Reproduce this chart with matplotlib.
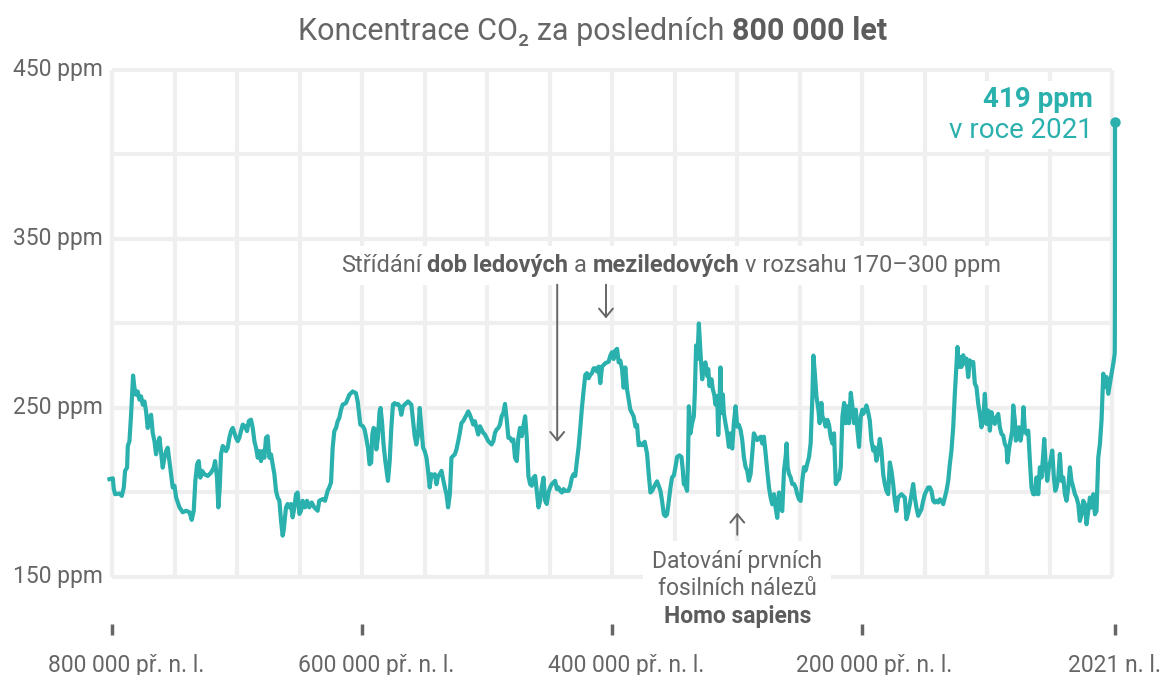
import matplotlib
matplotlib.use("Agg")
import matplotlib.pyplot as plt
from matplotlib.transforms import IdentityTransform, offset_copy, Bbox
from matplotlib.patches import Rectangle

FONT = ["Roboto", "DejaVu Sans"]
plt.rcParams["font.family"] = FONT

# CO2 from ice cores: age in thousands of years before 1950, concentration in ppm
age_kyr = [
    804, 801.3, 800.5, 799.5, 796, 794.1, 792.5, 791.5, 789.9, 789.3, 788, 786.7, 785.1, 784, 782.7,
    781.4, 780, 778.7, 777.4, 776, 774.7, 773.4, 772, 770.7, 769.4, 768, 766.7, 765.4, 764, 762.7,
    761.4, 760, 758.7, 757.4, 756, 754.7, 753.4, 752, 750.7, 748, 745.4, 742.7, 740, 738.2, 736.6,
    735.3, 733.9, 732.6, 731.3, 729.9, 728, 725.4, 722.7, 720.6, 719.5, 718, 716.9, 715.8, 714.8, 713.4,
    712.1, 710.8, 709.4, 708.1, 706.8, 705.4, 704.1, 702.8, 701.4, 700.1, 698.8, 697.4, 695.6, 694, 692.6,
    690.8, 689.4, 688.1, 686.8, 685.4, 684.1, 682.8, 681.5, 680.1, 678.8, 677.5, 676.1, 674.8, 673.5, 672.1,
    670.8, 669.5, 668.1, 666.8, 665.5, 664.7, 663.6, 662.8, 661.5, 660.1, 658.8, 657.5, 656.1, 654.8, 653.5,
    652.1, 650.8, 649.5, 647.6, 646, 644.2, 642.3, 640.2, 637.5, 636.2, 633.5, 631.6, 629.5, 628.2, 626.8,
    625.5, 624.2, 622.8, 621.5, 620.2, 618.8, 617.5, 614.9, 612.2, 609.5, 606.9, 605.5, 603.4,
    601.3, 600, 598.7, 597.3, 596, 594.7, 593.8, 592.8, 591.4, 590.6, 589.3, 588, 587.2, 586.1, 584.8,
    583.4, 581.3, 579.9, 578.6, 577.3, 575.9, 574.6, 573.3, 571.9, 570.6, 569.2, 567.9, 566.6, 565.2, 563.9,
    562.6, 561.2, 559.9, 558.6, 557.2, 555.9, 554.5, 553.2, 551.9, 550.5, 549.2, 547.9, 546.5, 545.2, 543.8,
    542.5, 541.2, 539.8, 538.5, 537.2, 535.8, 534.5, 533.2, 531.8, 530.5, 529.1, 527.8, 526.5, 525.1, 523.8,
    522.5, 521.1, 519.8, 518.4, 517.1, 515.8, 514.4, 513.1, 511.8, 510.4, 509.1, 507.7, 506.4, 505.1, 503.7,
    502.4, 501.1, 499.7, 498.4, 497, 495.7, 494.4, 493, 491.7, 490.4, 489, 487.7, 486.3, 485, 483.7,
    482.3, 481, 479.7, 478.3, 477, 475.7, 474.3, 473, 471.6, 470.3, 469, 467.6, 466.3, 465, 463.6,
    462.3, 460.9, 459.6, 458.3, 456.9, 455.6, 454.3, 452.9, 451.6, 450.3, 448.9, 447.6, 446.2, 444.9, 443.6,
    442.2, 440.9, 439.6, 436.9, 435.5, 434.2, 432.9, 431.5, 430.2, 428.9, 427.5, 426.2, 424.9, 423.5, 422.2,
    420.8, 419.5, 418.2, 416.8, 415.5, 414.2, 412.8, 411.5, 410.1, 407.5, 404.8,
    403.5, 402.1, 400.8, 399.5, 398.1, 396.8, 395.5, 394.1, 392.8, 391.5, 390.1, 388.8, 387.5, 386.1, 384.8,
    383.4, 382.1, 380.8, 379.4, 378.1, 376, 374.1, 372.8, 371.4, 370.1, 367.4, 366.1, 364.8, 363.4, 362.1,
    360.7, 359.4, 358.1, 356.7, 355.4, 354.1, 352.7, 351.4, 350.1, 348.2, 346.6, 345.5, 344.7, 343.4, 342.1,
    341.3, 340.7, 339.9, 339.4, 338.1, 336.7, 335.9, 334.9, 333.8, 332.7, 331.4, 330, 328.7, 327.4, 326,
    325.2, 324.2, 322.6, 321.5, 320.4, 319.4, 318, 317.2, 316.2, 315.4, 314.6, 313.5, 312.7, 311.4, 310,
    308.7, 307.4, 306, 304.7, 303.3, 302, 300.7, 299.3, 298, 296.7, 295.3, 294, 292.7, 291.3, 290,
    288.7, 287.3, 286, 284.7, 283.3, 282, 280.7, 279.3, 278, 276.6, 275.3, 274, 272.6, 271.3, 270,
    268.6, 267.3, 266, 264.6, 263.3, 262.5, 261.7, 260.6, 259.3, 258, 256.6, 255.3, 254, 252.6, 251.3,
    250, 248.6, 247.3, 246, 244.6, 243.3, 241.9, 241.1, 239.8, 238.7, 237.1, 236.1, 234.7, 233.9, 232.6,
    231.3, 229.9, 228.6, 227.3, 225.9, 224.6, 223.2, 221.9, 220.6, 219.2, 217.9, 216.5, 215.2, 213.9, 212.6,
    211.2, 209.9, 208.6, 207.2, 205.9, 204.6, 203.2, 201.9,
    201.3, 200, 198.7, 197.3, 196, 194.7, 193.3, 192, 190.7, 189.3, 188, 186.7, 185.3, 184, 182.7,
    181.3, 180, 178.7, 177.3, 176, 174.7, 173.3, 172, 170.7, 169.3, 168, 166.7, 165.3, 164, 162.7,
    161.3, 160, 158.7, 157.3, 156, 154.7, 153.3, 152, 150.7, 149.3, 148, 146.7, 145.3, 144, 142.7,
    141.3, 140, 138.7, 137.3, 136, 134.7, 133.3, 132, 130.7, 129.3, 128, 126.7, 125.9, 124.8, 124,
    122.7, 121.3, 120, 118.7, 117.3, 116, 114.7, 113.3, 112, 110.7, 109.3, 108, 106.7, 105.3, 104,
    102.7, 101.3, 100, 98.7, 97.3, 96, 94.7, 93.3, 92, 90.7, 89.3, 88, 86.7, 85.9, 84.5,
    83.5, 82.1, 81.3, 80, 79.2, 78.1, 76.8, 75.5, 74.1, 73.1, 72, 70.7, 69.3, 68, 66.7,
    65.3, 64, 62.7, 61.3, 60, 58.7, 57.3, 56.5, 55.2, 54.1, 52.8, 51.5, 50.1, 48.8, 47.7,
    46.7, 45.3, 44, 42.7, 41.3, 40, 38.7, 37.3, 36, 34.7, 33.3, 32, 30.7, 29.3, 28,
    26.7, 25.3, 24, 22.7, 21.3, 20, 18.7, 17.3, 16, 14.7, 13.3, 12, 10.7, 9.3, 8,
    6.7, 5.3, 4, 2.7, 1.3, 0.5, 0.2,
]
co2_ppm = [
    207.9, 208.4, 202, 199, 199.4, 198, 203, 212.8, 214.7, 227.5, 230.4, 246, 269.2, 261.8, 257.8,
    259.8, 254.9, 256.9, 252, 253.9, 248, 238.2, 244.1, 246, 235.3, 230.4, 222.6, 228.4, 232.4, 223.5,
    214.7, 220.6, 224.5, 226.5, 218.6, 210.8, 203, 204, 197.1, 191.2, 188.3, 189.2, 188.3, 183.8, 189.2,
    206.9, 216.7, 218.6, 208.8, 212.8, 210.8, 209.8, 211.8, 214.7, 218.6, 208.8, 191.2, 203, 222.6, 227.5,
    226.5, 224.5, 226.5, 232.4, 236.3, 238.2, 235.3, 232.4, 230.4, 232.4, 236.3, 240.2, 239.2, 236.3, 242.2,
    243.1, 238.2, 230.4, 226.5, 220.6, 224.5, 218.6, 224.5, 220.6, 232.4, 233.3, 220.6, 222.6, 216.7, 210.8,
    201, 197.1, 195.1, 183.4, 174.5, 177.5, 185.3, 191.2, 193.2, 191.2, 193.2, 185.3, 191.2, 199, 200,
    187.3, 189.2, 195.1, 191.2, 195.1, 191.2, 194.1, 191.2, 189.2, 195.1, 196.1, 195.1, 201, 203, 206,
    226.5, 236.3, 238.2, 242.2, 244.1, 249, 252, 252.9, 257.8, 259.8, 258.8, 253.9, 240.2,
    239.2, 237.3, 232.4, 226.5, 216.7, 217.7, 234.3, 238.2, 237.3, 225.5, 232.4, 248, 250, 242.2, 228.4,
    218.6, 206.9, 218.6, 238.2, 252, 252.9, 252, 252.4, 251, 246, 251, 252, 252.9, 253.9, 252.9,
    252, 242.2, 233.3, 228.4, 234.3, 250, 238.2, 226.5, 224.5, 220.6, 212.8, 203, 210.8, 209.8, 210.8,
    204.9, 209.8, 210.8, 212.8, 207.9, 203, 199, 191.2, 199, 220.6, 221.6, 222.6, 225.5, 230.4, 235.3,
    241.2, 242.2, 244.1, 246, 248, 246, 243.1, 240.2, 242.2, 238.2, 234.3, 239.2, 237.3, 235.3, 234.3,
    232.4, 230.4, 229.4, 228.4, 230.4, 235.3, 237.3, 238.2, 240.2, 245.1, 247.1, 252.4, 243.1, 232.4, 232.4,
    230.4, 231.4, 220.6, 218.6, 232.4, 238.2, 233.3, 239.2, 245.1, 232.4, 209.8, 204.9, 204, 208.8, 209.8,
    201, 191.2, 195.1, 203, 208.8, 195.1, 193.2, 200, 203, 204.9, 206, 206.9, 202, 203, 201,
    200, 202, 201, 201, 204, 208.8, 210.8, 209.8, 218.6, 226.5, 238.2, 250, 259.8, 269.6, 270.6,
    267.6, 269.6, 270.6, 273.5, 273.5, 271.6, 274.5, 264.7, 274.5, 276.5, 277.4,
    281, 283, 279, 284, 285, 277, 278, 273, 262, 274, 261, 255, 249, 247, 245,
    239, 240, 228, 229, 228, 230, 223, 211, 200, 201, 205, 206.6, 204, 201, 195,
    187, 186, 187, 195, 203, 209, 210, 215, 221, 222, 221, 213, 205, 204, 201,
    221, 251, 243, 235, 241, 245, 259, 287, 279, 300, 283, 267, 275, 277, 269,
    273, 263, 267, 261, 258, 252, 257, 234, 253, 274, 247, 258, 247, 241, 235,
    227, 235, 226, 241, 251, 239, 240, 237, 231, 221, 215, 213, 207, 211, 223,
    235, 233, 231, 232, 233, 229, 233, 223, 213, 203, 197, 193, 199, 191, 185,
    200, 191, 189, 213, 221, 229, 215, 211, 209, 205, 205, 203, 199, 196, 195,
    207, 215, 213, 217, 221, 229, 257, 281, 269, 257, 249, 241, 253, 245, 243,
    239, 243, 240, 233, 229, 235, 205, 207, 208, 215, 245, 253, 241, 251, 241,
    259, 251, 241, 249, 237, 227, 245, 249,
    246.5, 248.5, 251.5, 247.5, 242.6, 230.7, 224.8, 226.7, 218.8, 223.8, 231.7, 224.8, 210.9, 205, 201,
    199, 217.8, 212.9, 205, 195.1, 189.1, 197, 198, 199, 198, 197, 184.2, 188.1, 193.1, 199,
    205, 197, 191.1, 186.2, 188.1, 190.1, 195.1, 199, 201, 203, 203, 201, 195.1, 194.1, 195.1,
    194.1, 196, 195.1, 193.1, 197, 201, 206.9, 216.8, 224.8, 238.6, 258.4, 276.2, 286.1, 274.3, 280.2,
    274.3, 281.2, 276.2, 279.2, 268.3, 278.2, 276.2, 277.2, 264.4, 262.4, 252.5, 246.5, 238.6, 242.6, 258.4,
    240.6, 248.5, 236.6, 247.5, 242.6, 240.6, 244.6, 246.5, 238.6, 234.7, 233.7, 228.7, 226.7, 217.8, 226.7,
    230.7, 236.6, 251.5, 242.6, 230.7, 234.7, 238.6, 230.7, 236.6, 250.5, 236.6, 234.7, 236.6, 218.8, 203,
    199, 199, 208.9, 199, 214.9, 208.9, 222.8, 231.7, 214.9, 206.9, 214.9, 218.8, 224.8, 208.9, 201,
    203, 208.9, 222.8, 206.9, 208.9, 199, 195.1, 203, 214.9, 206.9, 203, 199, 197, 193.1, 183.2,
    187.1, 195.1, 193.1, 181.2, 189.1, 197, 191.1, 199, 187.1, 189.1, 220.8, 228.7, 242.6, 270.3, 262.4,
    268.3, 258.4, 264.4, 270.3, 276.2, 280.2, 282,
]
# instrumental era
modern_year = [1850, 1950, 2021]
modern_ppm = [285, 311, 419]

grid_ppm = [150, 200, 250, 300, 350, 400, 450]
label_ppm = [150, 250, 350, 450]
grid_years = list(range(-800000, 1, 50000))
xtick_years = [-800000, -600000, -400000, -200000, 2021]
xtick_labels = ["800 000 př. n. l.", "600 000 př. n. l.", "400 000 př. n. l.",
                "200 000 př. n. l.", "2021 n. l."]
xtick_shift = [14, 14, 14, 12, 0]

TEAL = "#2ab0ad"
GRAY = "#666666"
DARK = "#5c5c5c"
GRID = "#efefef"

years = [1950 - a * 1000 for a in age_kyr] + modern_year
values = co2_ppm + modern_ppm

W, H = 1168, 675
fig = plt.figure(figsize=(W / 100, H / 100), dpi=100)
ax = fig.add_axes([112 / W, 98 / H, 1003 / W, 507 / H])
ax.set_xlim(-800000, 2021)
ax.set_ylim(150, 450)
ax.axis("off")

ax.hlines(grid_ppm, -800000, 0, color=GRID, lw=3, zorder=0.5, clip_on=False)
ax.vlines(grid_years, 150, 450, color=GRID, lw=3, zorder=0.5, clip_on=False)

ax.plot(years, values, color=TEAL, lw=3.0, solid_joinstyle="round", clip_on=False, zorder=3)
ax.plot([modern_year[-1]], [modern_ppm[-1]], "o", ms=6.5, color=TEAL, clip_on=False, zorder=4)

# y labels
ylab_tr = offset_copy(ax.get_yaxis_transform(), fig=fig, x=-9, y=-6, units="dots")
for v in label_ppm:
    ax.text(0, v, f"{v} ppm", transform=ylab_tr, ha="right", va="baseline",
            fontsize=16.5, color=GRAY)

# x ticks
xt = ax.get_xaxis_transform()
for yr, lab, dx in zip(xtick_years, xtick_labels, xtick_shift):
    ax.plot([yr, yr], [-0.093, -0.114], transform=xt, color=GRAY, lw=2.5,
            solid_capstyle="butt", clip_on=False)
    ax.text(yr, -0.187, lab, transform=offset_copy(xt, fig=fig, x=dx, units="dots"),
            ha="center", va="baseline", fontsize=16.5, color=GRAY)

renderer = fig.canvas.get_renderer()


def rich_line(parts, x, y, size, ha="center"):
    texts = [fig.text(0, 0, s, fontsize=size, fontweight=w, color=c, va="baseline",
                      ha="left", transform=IdentityTransform(), zorder=5)
             for s, w, c in parts]
    widths = [t.get_window_extent(renderer).width for t in texts]
    gap = 0.25 * size * fig.dpi / 72
    total = sum(widths) + gap * (len(texts) - 1)
    if ha == "center":
        x -= total / 2
    elif ha == "right":
        x -= total
    for t, w in zip(texts, widths):
        t.set_position((x, y))
        x += w + gap
    return texts


def white_box(texts, pad):
    bb = Bbox.union([t.get_window_extent(renderer) for t in texts])
    ax.add_patch(Rectangle((bb.x0 - pad, bb.y0 - pad), bb.width + 2 * pad, bb.height + 2 * pad,
                           transform=IdentityTransform(), fc="white", ec="none",
                           zorder=1, clip_on=False))


def to_px(x, y):
    return ax.transData.transform((x, y))


# title
rich_line([("Koncentrace CO₂ za posledních", "normal", GRAY),
           ("800 000 let", "bold", DARK)], 593, H - 40, 22)

# glacial / interglacial note
px, py = to_px(-353000, 330.5)
note = rich_line([("Střídání", "normal", GRAY), ("dob ledových", "bold", DARK),
                  ("a", "normal", GRAY), ("meziledových", "bold", DARK),
                  ("v rozsahu 170–300 ppm", "normal", GRAY)], px, py, 17)
white_box(note, 8)

arrow = dict(arrowstyle="->,head_length=0.6,head_width=0.5", color=GRAY, lw=1.4,
             shrinkA=0, shrinkB=0)
ax.annotate("", xy=(-444000, 230), xytext=(-444000, 323), arrowprops=arrow, zorder=4)
ax.annotate("", xy=(-405000, 303), xytext=(-405000, 323), arrowprops=arrow, zorder=4)

# Homo sapiens note
ax.annotate("", xy=(-300000, 188), xytext=(-300000, 175), arrowprops=arrow, zorder=4)
hs = []
for txt, w, c, yv in [("Datování prvních", "normal", GRAY, 155.3),
                      ("fosilních nálezů", "normal", GRAY, 139.3),
                      ("Homo sapiens", "bold", DARK, 122.8)]:
    hx, hy = to_px(-300000, yv)
    hs += rich_line([(txt, w, c)], hx, hy, 16.5)
white_box(hs, 9)

# latest value
lab = []
for txt, w, yv in [("419 ppm", "bold", 428.1), ("v roce 2021", "normal", 409.8)]:
    lx, ly = to_px(-15600, yv)
    lab += rich_line([(txt, w, TEAL)], lx, ly, 20, ha="right")
white_box(lab, 5)

fig.savefig("out.png", dpi=100)
